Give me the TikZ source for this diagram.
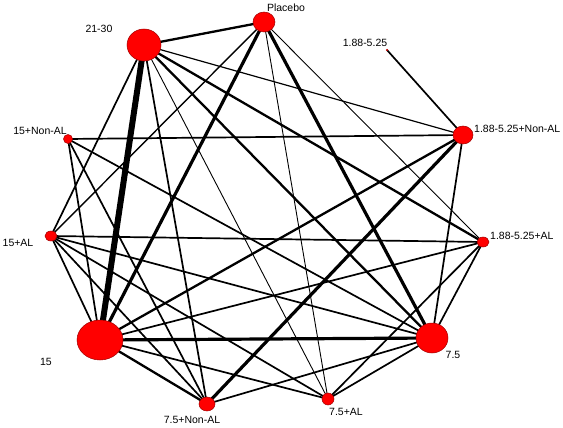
\documentclass[tikz,border=0pt]{standalone}
\usepackage{fontspec}
\setmainfont{Liberation Sans}
\usetikzlibrary{shapes.geometric}
\definecolor{nodered}{HTML}{FF0000}
\definecolor{noderim}{HTML}{A00000}
\tikzset{
  trt/.style={shape=ellipse, fill=nodered, draw=noderim, line width=0.5pt, inner sep=0pt},
  lbl/.style={font=\fontsize{10.5}{12}\selectfont, inner sep=0pt, text=black},
  e/.style={line width=1.7pt, black},
  ethin/.style={line width=0.9pt, black},
  emid/.style={line width=2.3pt, black},
  ethick/.style={line width=3.2pt, black},
  evthick/.style={line width=6pt, black}
}
\begin{document}
\begin{tikzpicture}[x=1pt,y=-1pt]
\useasboundingbox (0,0) rectangle (563,428);
% node coordinates
\coordinate (cP) at (264,22);
\coordinate (cA) at (144,45);
\coordinate (cNA15) at (68,139);
\coordinate (cAL15) at (51,236);
\coordinate (cF) at (100,340);
\coordinate (cNA75) at (207,404);
\coordinate (cAL75) at (328,399);
\coordinate (cS) at (432,338);
\coordinate (cALlow) at (483,242);
\coordinate (cNAlow) at (463,135);
\coordinate (cLow) at (387,50);
% edges
\draw[evthick] (cA) -- (cF);
\draw[emid] (cA) -- (cP);
\draw[line width=1.2pt] (cA) -- (cNAlow);
\draw[emid] (cA) -- (cALlow);
\draw[emid] (cA) -- (cS);
\draw[ethin] (cA) -- (cAL75);
\draw[e] (cA) -- (cNA75);
\draw[e] (cA) -- (cAL15);
\draw[ethick] (cP) -- (cF);
\draw[line width=1.4pt] (cP) -- (cAL15);
\draw[ethick] (cP) -- (cS);
\draw[ethin] (cP) -- (cAL75);
\draw[ethin] (cP) -- (cALlow);
\draw[e] (cNA15) -- (cNAlow);
\draw[e] (cNA15) -- (cS);
\draw[e] (cNA15) -- (cF);
\draw[e] (cNA15) -- (cNA75);
\draw[e] (cAL15) -- (cALlow);
\draw[e] (cAL15) -- (cS);
\draw[e] (cAL15) -- (cAL75);
\draw[e] (cAL15) -- (cF);
\draw[e] (cAL15) -- (cNA75);
\draw[ethick] (cF) -- (cS);
\draw[emid] (cF) -- (cNA75);
\draw[e] (cF) -- (cAL75);
\draw[emid] (cF) -- (cNAlow);
\draw[e] (cF) -- (cALlow);
\draw[ethick] (cNA75) -- (cNAlow);
\draw[e] (cNA75) -- (cS);
\draw[e] (cAL75) -- (cS);
\draw[e] (cAL75) -- (cALlow);
\draw[e] (cS) -- (cNAlow);
\draw[e] (cS) -- (cALlow);
\draw[e] (cLow) -- (cNAlow);
% nodes
\node[trt, minimum width=22pt, minimum height=20pt] (P) at (cP) {};
\node[trt, minimum width=34pt, minimum height=32pt] (A) at (cA) {};
\node[trt, minimum width=9pt, minimum height=9pt] (NA15) at (cNA15) {};
\node[trt, minimum width=12pt, minimum height=10pt] (AL15) at (cAL15) {};
\node[trt, minimum width=46pt, minimum height=40pt] (F) at (cF) {};
\node[trt, minimum width=16pt, minimum height=14pt] (NA75) at (cNA75) {};
\node[trt, minimum width=12pt, minimum height=12pt] (AL75) at (cAL75) {};
\node[trt, minimum width=32pt, minimum height=30pt] (S) at (cS) {};
\node[trt, minimum width=12pt, minimum height=10pt] (ALlow) at (cALlow) {};
\node[trt, minimum width=20pt, minimum height=18pt] (NAlow) at (cNAlow) {};
\node[trt, minimum width=2pt, minimum height=2pt, line width=0.2pt] (Low) at (cLow) {};
% labels
\node[lbl] (tP) at (286,8) {Placebo};
\node[lbl] (tA) at (99,29) {21-30};
\node[lbl] (tLow) at (365,43) {1.88-5.25};
\node[lbl, anchor=west] (tNAlow) at (474,129) {1.88-5.25+Non-AL};
\node[lbl] (tNA15) at (40,131) {15+Non-AL};
\node[lbl] (tAL15) at (18,243) {15+AL};
\node[lbl, anchor=west] (tALlow) at (490,236) {1.88-5.25+AL};
\node[lbl] (tF) at (46,362) {15};
\node[lbl] (tS) at (453,355) {7.5};
\node[lbl] (tNA75) at (192,420) {7.5+Non-AL};
\node[lbl] (tAL75) at (346,412) {7.5+AL};
\end{tikzpicture}
\end{document}
